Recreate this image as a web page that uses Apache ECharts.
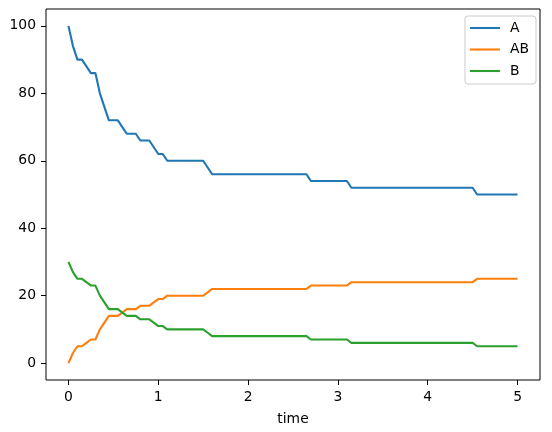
<!DOCTYPE html>
<html>
<head>
<meta charset="utf-8">
<script src="https://cdn.jsdelivr.net/npm/echarts@6/dist/echarts.min.js"></script>
<style>html,body{margin:0;padding:0;background:#fff}#c{width:552px;height:432px}</style>
</head>
<body>
<div id="c"></div>
<script>
var time = [0, 0.05, 0.1, 0.15, 0.2, 0.25, 0.3, 0.35, 0.4, 0.45, 0.55, 0.6, 0.65, 0.75, 0.8, 0.9, 0.95, 1.0, 1.05, 1.1, 1.5, 1.55, 1.6, 2.65, 2.7, 3.1, 3.15, 4.5, 4.55, 5.0];
var seriesA  = [100, 94, 90, 90, 88, 86, 86, 80, 76, 72, 72, 70, 68, 68, 66, 66, 64, 62, 62, 60, 60, 58, 56, 56, 54, 54, 52, 52, 50, 50];
var seriesAB = [0, 3, 5, 5, 6, 7, 7, 10, 12, 14, 14, 15, 16, 16, 17, 17, 18, 19, 19, 20, 20, 21, 22, 22, 23, 23, 24, 24, 25, 25];
var seriesB  = [30, 27, 25, 25, 24, 23, 23, 20, 18, 16, 16, 15, 14, 14, 13, 13, 12, 11, 11, 10, 10, 9, 8, 8, 7, 7, 6, 6, 5, 5];
var xTicks = [0, 1, 2, 3, 4, 5];
var yTicks = [0, 20, 40, 60, 80, 100];
var names = ['A', 'AB', 'B'];
var colors = ['#1f77b4', '#ff7f0e', '#2ca02c'];

function pairs(ys) { return time.map(function (t, i) { return [t, ys[i]]; }); }

var font = 'DejaVu Sans';
var chart = echarts.init(document.getElementById('c'), null, {renderer: 'canvas'});
chart.setOption({
  animation: false,
  backgroundColor: '#fff',
  grid: {left: 46, right: 12, top: 9, bottom: 52, show: true, borderColor: '#000', borderWidth: 1, backgroundColor: 'transparent'},
  legend: {
    orient: 'vertical', right: 16, top: 16,
    data: names.map(function (n) { return {name: n, icon: 'rect'}; }),
    backgroundColor: '#fff', borderColor: '#cccccc', borderWidth: 1, borderRadius: 3,
    padding: [4, 7, 5, 5], itemGap: 5.5, itemWidth: 30, itemHeight: 2.1,
    textStyle: {fontFamily: font, fontSize: 13.9, color: '#000', lineHeight: 16, padding: [0, 0, 0, 5]}
  },
  xAxis: {
    type: 'value', min: -0.25, max: 5.25,
    name: 'time', nameLocation: 'middle', nameGap: 32,
    nameTextStyle: {fontFamily: font, fontSize: 13.9, color: '#000'},
    axisLine: {show: false, onZero: false},
    axisTick: {show: true, inside: false, length: 5, customValues: xTicks, lineStyle: {color: '#000', width: 1}},
    axisLabel: {show: true, margin: 10, customValues: xTicks, fontFamily: font, fontSize: 13.9, color: '#000'},
    splitLine: {show: false}
  },
  yAxis: {
    type: 'value', min: -5, max: 105,
    axisLine: {show: false, onZero: false},
    axisTick: {show: true, inside: false, length: 5, customValues: yTicks, lineStyle: {color: '#000', width: 1}},
    axisLabel: {show: true, margin: 10, customValues: yTicks, fontFamily: font, fontSize: 13.9, color: '#000'},
    splitLine: {show: false}
  },
  series: [
    {name: names[0], type: 'line', data: pairs(seriesA), symbol: 'none', lineStyle: {width: 2.1, color: colors[0]}, itemStyle: {color: colors[0]}},
    {name: names[1], type: 'line', data: pairs(seriesAB), symbol: 'none', lineStyle: {width: 2.1, color: colors[1]}, itemStyle: {color: colors[1]}},
    {name: names[2], type: 'line', data: pairs(seriesB), symbol: 'none', lineStyle: {width: 2.1, color: colors[2]}, itemStyle: {color: colors[2]}}
  ]
});
</script>
</body>
</html>
